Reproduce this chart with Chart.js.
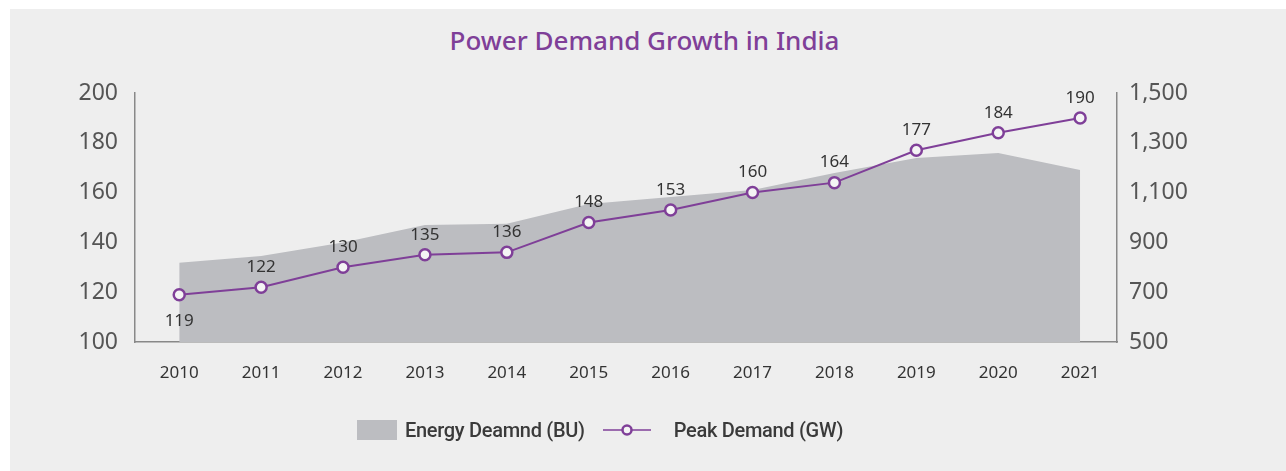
<!DOCTYPE html>
<html>
<head>
<meta charset="utf-8">
<script src="https://cdn.jsdelivr.net/npm/chart.js@4/dist/chart.umd.min.js"></script>
<style>
    html, body { margin: 0; padding: 0; background: #fff; }
    #wrap { position: relative; width: 1286px; height: 471px; overflow: hidden; font-family: 'Noto Sans', sans-serif; }
    #panel { position: absolute; left: 10px; top: 9px; right: 0; bottom: 0; background: #eeeeee; }
    #title { position: absolute; left: 0; width: 1289px; top: 22px; text-align: center; font-size: 26px; font-weight: 500; color: #7f3f98; }
    #chart { position: absolute; left: 0; top: 0; }
    #legend { position: absolute; top: 418px; left: 357px; display: flex; align-items: center; font-family: Roboto, sans-serif; font-size: 20px; letter-spacing: -0.3px; font-weight: 500; color: #3a3a3a; }
    .swatch { width: 40px; height: 20px; background: #bcbdc1; margin-right: 8px; }
    .marker { margin-left: 18px; margin-right: 23px; }
</style>
</head>
<body>
<div id="wrap">
    <div id="panel"></div>
    <div id="title">Power Demand Growth in India</div>
    <canvas id="chart" width="1286" height="471"></canvas>
    <div id="legend">
        <div class="swatch"></div><span>Energy Deamnd (BU)</span>
        <svg class="marker" width="48" height="14" viewBox="0 0 48 14">
            <line x1="0" y1="7" x2="48" y2="7" stroke="#7f3f98" stroke-width="1.5"/>
            <circle cx="24" cy="7" r="4.5" fill="#f4f4f4" stroke="#7f3f98" stroke-width="2.5"/>
        </svg>
        <span>Peak Demand (GW)</span>
    </div>
</div>
<script>
const years = [2010, 2011, 2012, 2013, 2014, 2015, 2016, 2017, 2018, 2019, 2020, 2021];
// Peak demand in GW (left axis)
const peakDemand = [119, 122, 130, 135, 136, 148, 153, 160, 164, 177, 184, 190];
// Energy demand in BU (right axis)
const energyDemand = [818, 845, 900, 970, 975, 1054, 1082, 1110, 1179, 1239, 1259, 1191];

const purple = '#7f3f98';
const tickFont = { family: 'Noto Sans', size: 23 };

const pointLabels = {
    id: 'pointLabels',
    afterDatasetsDraw(chart) {
        const ctx = chart.ctx;
        const meta = chart.getDatasetMeta(0);
        ctx.save();
        ctx.font = '17px "Noto Sans"';
        ctx.fillStyle = '#333';
        ctx.textAlign = 'center';
        ctx.textBaseline = 'middle';
        meta.data.forEach((pt, i) => {
            const dy = i === 0 ? 26 : -20;
            ctx.fillText(peakDemand[i], pt.x, pt.y + dy);
        });
        ctx.restore();
    }
};

new Chart(document.getElementById('chart'), {
    type: 'line',
    data: {
        datasets: [
            {
                label: 'Peak Demand (GW)',
                data: years.map((y, i) => ({ x: y, y: peakDemand[i] })),
                yAxisID: 'y',
                borderColor: purple,
                borderWidth: 2,
                pointRadius: 5.5,
                pointBackgroundColor: '#f4f4f4',
                pointBorderColor: purple,
                pointBorderWidth: 2.5,
                tension: 0,
                order: 0
            },
            {
                label: 'Energy Deamnd (BU)',
                data: years.map((y, i) => ({ x: y, y: energyDemand[i] })),
                yAxisID: 'y1',
                backgroundColor: '#bcbdc1',
                borderWidth: 0,
                pointRadius: 0,
                fill: 'start',
                tension: 0,
                order: 1
            }
        ]
    },
    options: {
        responsive: false,
        animation: false,
        devicePixelRatio: 1,
        layout: { padding: { top: 93, left: 0, right: 0, bottom: 69 } },
        plugins: {
            legend: { display: false },
            title: { display: false },
            tooltip: { enabled: false }
        },
        scales: {
            x: {
                type: 'linear',
                min: 2009.46,
                max: 2021.45,
                grid: { display: false, drawTicks: false },
                border: { display: true, color: '#888', width: 1.5 },
                ticks: {
                    stepSize: 1,
                    includeBounds: false,
                    padding: 21,
                    color: '#333',
                    font: { family: 'Noto Sans', size: 17 },
                    callback: v => String(v)
                },
                afterFit: s => { s.height = 60; }
            },
            y: {
                position: 'left',
                min: 100,
                max: 200,
                grid: { display: false, drawTicks: false },
                border: { display: true, color: '#888', width: 1.5 },
                ticks: { stepSize: 20, padding: 17, color: '#555', font: tickFont },
                afterFit: s => { s.width = 135; }
            },
            y1: {
                position: 'right',
                min: 500,
                max: 1500,
                grid: { display: false, drawTicks: false },
                border: { display: true, color: '#888', width: 1.5 },
                ticks: {
                    stepSize: 200,
                    padding: 12,
                    color: '#555',
                    font: tickFont,
                    callback: v => v.toLocaleString('en-US')
                },
                afterFit: s => { s.width = 169; }
            }
        }
    },
    plugins: [pointLabels]
});
</script>
</body>
</html>
